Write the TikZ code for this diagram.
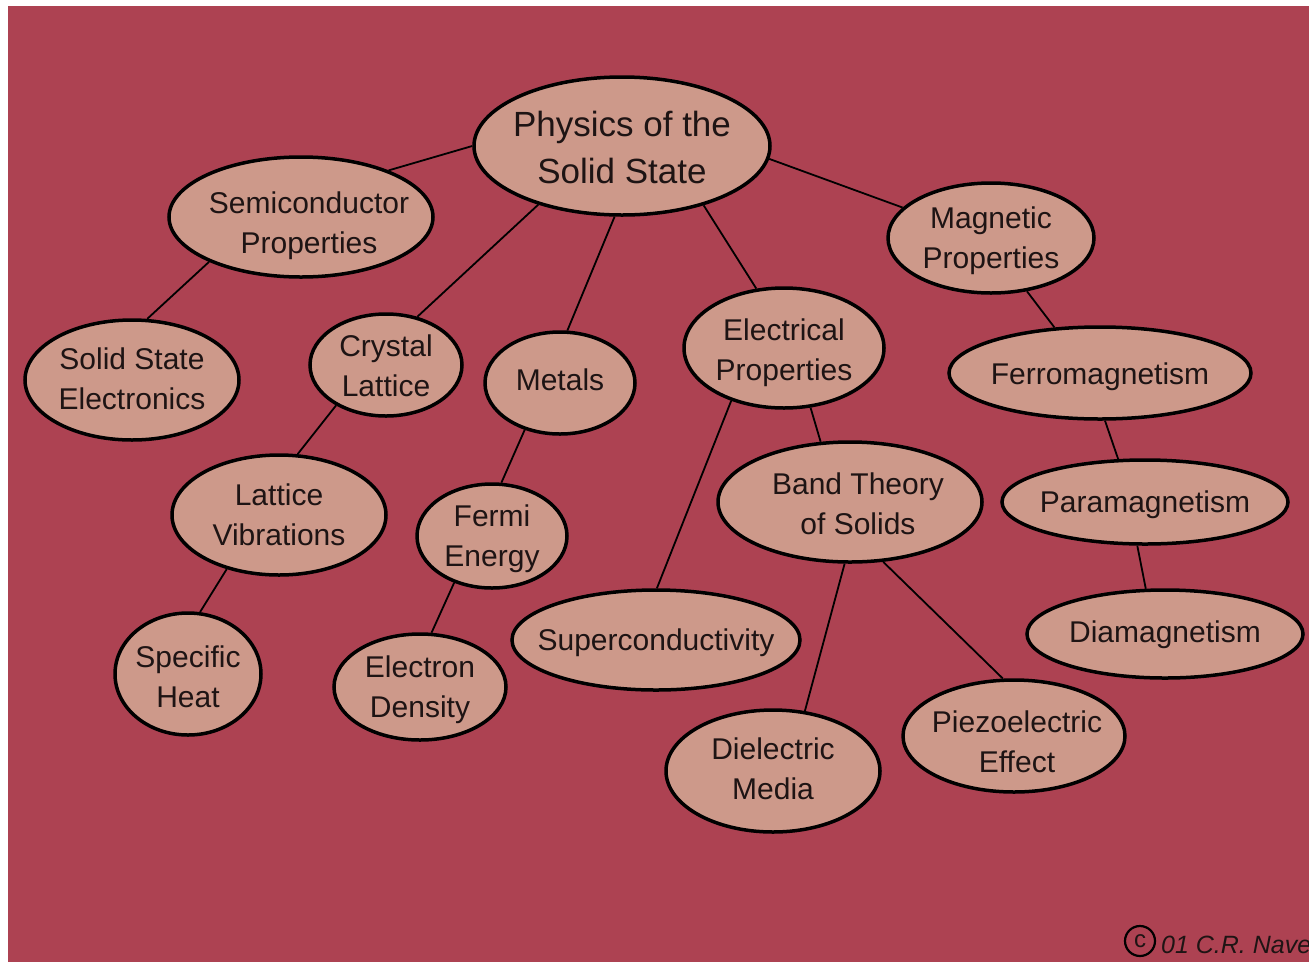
\documentclass[tikz,border=0pt]{standalone}
\usepackage{fontspec}
\setmainfont{Liberation Sans}
\usetikzlibrary{shapes.geometric}
\definecolor{bgred}{RGB}{173,66,82}
\definecolor{nodefill}{RGB}{205,153,138}
\definecolor{inktext}{RGB}{30,20,20}
\tikzset{
  concept/.style={ellipse, draw=black, line width=3.5pt, fill=nodefill, inner sep=0pt},
  lbl/.style={font=\fontsize{30}{40}\selectfont, align=center, text=inktext, inner sep=0pt},
  biglbl/.style={font=\fontsize{35}{47}\selectfont, align=center, text=inktext, inner sep=0pt},
  link/.style={draw=black, line width=1.8pt},
}
\begin{document}
\begin{tikzpicture}[x=1pt,y=-1pt]
\useasboundingbox (0,0) rectangle (1309,962);
\clip (0,0) rectangle (1309,962);
\fill[white] (0,0) rectangle (1309,962);
\fill[bgred] (8,6) rectangle (1309,962);

\node[concept, minimum width=296pt, minimum height=138pt, label={[biglbl, yshift=-1pt]center:Physics of the\\Solid State}] (phys) at (622,146) {};
\node[concept, minimum width=264pt, minimum height=120pt, label={[lbl, xshift=8pt, yshift=-9pt]center:Semiconductor\\Properties}] (semi) at (301,217) {};
\node[concept, minimum width=206pt, minimum height=110pt, label={[lbl, yshift=-3pt]center:Magnetic\\Properties}] (mag) at (991,238) {};
\node[concept, minimum width=214pt, minimum height=120pt, label={[lbl, yshift=1pt]center:Solid State\\Electronics}] (solid) at (132,380) {};
\node[concept, minimum width=152pt, minimum height=102pt, label={[lbl, yshift=-1pt]center:Crystal\\Lattice}] (cryst) at (386,365) {};
\node[concept, minimum width=150pt, minimum height=102pt, label={[lbl, yshift=3pt]center:Metals}] (metals) at (560,383) {};
\node[concept, minimum width=200pt, minimum height=120pt, label={[lbl, yshift=-5pt]center:Electrical\\Properties}] (elec) at (784,348) {};
\node[concept, minimum width=302pt, minimum height=92pt, label={[lbl, yshift=-4pt]center:Ferromagnetism}] (ferro) at (1100,373) {};
\node[concept, minimum width=214pt, minimum height=120pt, label={[lbl]center:Lattice\\Vibrations}] (latvib) at (279,515) {};
\node[concept, minimum width=150pt, minimum height=104pt, label={[lbl, yshift=-3pt]center:Fermi\\Energy}] (fermi) at (492,536) {};
\node[concept, minimum width=264pt, minimum height=120pt, label={[lbl, xshift=8pt, yshift=-2pt]center:Band Theory\\of Solids}] (band) at (850,502) {};
\node[concept, minimum width=286pt, minimum height=84pt, label={[lbl, yshift=-3pt]center:Paramagnetism}] (para) at (1145,502) {};
\node[concept, minimum width=146pt, minimum height=122pt, label={[lbl, yshift=-3pt]center:Specific\\Heat}] (spec) at (188,674) {};
\node[concept, minimum width=172pt, minimum height=106pt, label={[lbl, yshift=-3pt]center:Electron\\Density}] (elden) at (420,687) {};
\node[concept, minimum width=288pt, minimum height=100pt, label={[lbl, yshift=-3pt]center:Superconductivity}] (super) at (656,640) {};
\node[concept, minimum width=276pt, minimum height=88pt, label={[lbl, yshift=-1pt]center:Diamagnetism}] (dia) at (1165,634) {};
\node[concept, minimum width=214pt, minimum height=122pt, label={[lbl, yshift=2pt]center:Dielectric\\Media}] (diel) at (773,771) {};
\node[concept, minimum width=222pt, minimum height=112pt, label={[lbl, xshift=3pt, yshift=-6pt]center:Piezoelectric\\Effect}] (piezo) at (1014,736) {};

\draw[link] (phys.180) -- (semi.28);
\draw[link] (phys.215) -- (cryst.57);
\draw[link] (phys.264) -- (metals.82);
\draw[link] (phys.324) -- (elec.115);
\draw[link] (phys.355) -- (mag.161);
\draw[link] (semi.206) -- (solid.76);
\draw[link] (cryst.219) -- (latvib.73);
\draw[link] (metals.233) -- (fermi.80);
\draw[link] (elec.225) -- (super.89);
\draw[link] (elec.294) -- (band.116);
\draw[link] (mag.304) -- (ferro.135);
\draw[link] (ferro.276) -- (para.122);
\draw[link] (para.260) -- (dia.113);
\draw[link] (latvib.226) -- (spec.79);
\draw[link] (fermi.231) -- (elden.78);
\draw[link] (band.265) -- (diel.62);
\draw[link] (band.299) -- (piezo.101);

\node[circle, draw=black, line width=2.2pt, minimum size=30pt, inner sep=0pt, font=\fontsize{24}{24}\selectfont, text=inktext] (copyc) at (1140,941) {c};
\node[anchor=base west, inner sep=0pt, font=\fontsize{25}{30}\selectfont\itshape, text=inktext] (credit) at (1161,953) {01 C.R. Nave};
\end{tikzpicture}
\end{document}
